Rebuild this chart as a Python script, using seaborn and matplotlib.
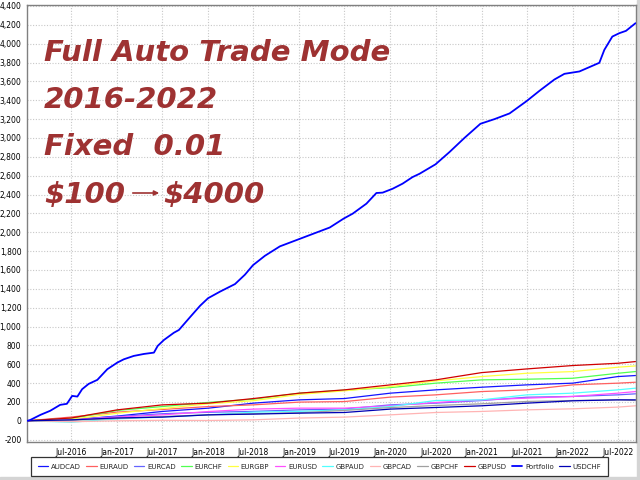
import matplotlib
matplotlib.use("Agg")
import matplotlib.pyplot as plt
import matplotlib.dates as mdates
from matplotlib.ticker import FuncFormatter, MultipleLocator
from matplotlib.patches import Rectangle, FancyArrowPatch
import pandas as pd
import seaborn as sns

# half-year sample dates for the single pairs
pair_dates = ["2016-01-07", "2016-07-01", "2017-01-01", "2017-07-01", "2018-01-01",
              "2018-07-01", "2019-01-01", "2019-07-01", "2020-01-01", "2020-07-01",
              "2021-01-01", "2021-07-01", "2022-01-01", "2022-07-01", "2022-09-10"]

audcad = [0, 10, 50, 99, 134, 187, 222, 236, 293, 328, 356, 381, 399, 469, 480]
euraud = [0, 40, 92, 120, 151, 169, 198, 204, 251, 275, 310, 328, 381, 399, 409]
eurcad = [0, 15, 45, 75, 90, 100, 116, 125, 169, 187, 215, 250, 258, 275, 286]
eurchf = [0, 25, 110, 151, 195, 229, 293, 325, 352, 399, 434, 441, 451, 504, 522]
eurgbp = [0, 15, 80, 130, 180, 213, 280, 318, 363, 423, 469, 504, 522, 568, 582]
eurusd = [0, 10, 40, 63, 98, 124, 134, 134, 159, 194, 222, 240, 258, 293, 310]
gbpaud = [0, -15, 20, 40, 63, 92, 100, 116, 151, 215, 222, 275, 293, 328, 346]
gbpcad = [0, -10, 0, 5, 3, 10, 29, 39, 63, 88, 99, 116, 127, 145, 159]
gbpchf = [0, 5, 25, 45, 63, 75, 85, 110, 140, 162, 180, 205, 215, 222, 215]
gbpusd = [0, 30, 116, 169, 187, 236, 293, 328, 381, 434, 511, 550, 586, 610, 628]
usdchf = [0, 10, 30, 39, 63, 71, 81, 88, 124, 141, 159, 187, 212, 222, 222]

# portfolio equity curve
port_dates = ["2016-01-07", "2016-01-19", "2016-02-28", "2016-04-07", "2016-05-17",
              "2016-06-13", "2016-07-04", "2016-07-25", "2016-08-13", "2016-09-08",
              "2016-10-13", "2016-11-22", "2017-01-01", "2017-01-27", "2017-03-08",
              "2017-04-18", "2017-05-28", "2017-06-12", "2017-07-07", "2017-08-16",
              "2017-09-05", "2017-10-20", "2017-11-29", "2017-12-31", "2018-02-17",
              "2018-04-18", "2018-05-28", "2018-06-29", "2018-08-16", "2018-10-15",
              "2018-11-24", "2019-01-03", "2019-03-04", "2019-05-03", "2019-06-28",
              "2019-08-03", "2019-09-27", "2019-11-06", "2019-12-01", "2020-01-10",
              "2020-02-19", "2020-03-30", "2020-04-27", "2020-06-30", "2020-08-25",
              "2020-10-24", "2020-12-27", "2021-02-22", "2021-04-23", "2021-06-30",
              "2021-08-21", "2021-10-20", "2021-11-29", "2022-01-28", "2022-04-18",
              "2022-05-08", "2022-06-09", "2022-07-07", "2022-08-03", "2022-09-10"]
portfolio = [0, 10, 63, 106, 169, 180, 264, 257, 335, 391,
             434, 547, 617, 652, 688, 709, 723, 794, 857, 934,
             963, 1100, 1220, 1300, 1370, 1450, 1550, 1650, 1750, 1850,
             1890, 1930, 1990, 2050, 2145, 2197, 2303, 2416, 2420, 2461,
             2515, 2585, 2620, 2720, 2850, 3000, 3150, 3200, 3260, 3390,
             3500, 3620, 3680, 3705, 3797, 3934, 4075, 4111, 4136, 4217]

names = ["AUDCAD", "EURAUD", "EURCAD", "EURCHF", "EURGBP", "EURUSD",
         "GBPAUD", "GBPCAD", "GBPCHF", "GBPUSD", "Portfolio", "USDCHF"]
colors = ["#1414ff", "#ff6060", "#6464ff", "#50ff50", "#ffff40", "#ff50ff",
          "#50ffff", "#ffb4b4", "#a0a0a0", "#d00000", "#0000ff", "#0000b4"]

series = {"AUDCAD": audcad, "EURAUD": euraud, "EURCAD": eurcad, "EURCHF": eurchf,
          "EURGBP": eurgbp, "EURUSD": eurusd, "GBPAUD": gbpaud, "GBPCAD": gbpcad,
          "GBPCHF": gbpchf, "GBPUSD": gbpusd, "USDCHF": usdchf}

sns.set_style("white")
plt.rcParams['font.family'] = ['DejaVu Sans']

fig = plt.figure(figsize=(6.4, 4.8), dpi=100)
ax = fig.add_axes([27 / 640, 38 / 480, 609 / 640, 437 / 480])

pd_dates = pd.to_datetime(pair_dates)
for name, col in zip(names, colors):
    if name == "Portfolio":
        sns.lineplot(x=pd.to_datetime(port_dates), y=portfolio, color=col,
                     linewidth=1.3, label=name, ax=ax, zorder=5)
    else:
        sns.lineplot(x=pd_dates, y=series[name], color=col,
                     linewidth=0.9, label=name, ax=ax)

ax.set_xlim(pd.Timestamp("2016-01-05"), pd.Timestamp("2022-09-12"))
ax.set_ylim(-225, 4410)
ax.yaxis.set_major_locator(MultipleLocator(200))
ax.yaxis.set_major_formatter(FuncFormatter(lambda v, p: f"{int(v):,}"))
ax.xaxis.set_major_locator(mdates.MonthLocator(bymonth=[1, 7]))
ax.xaxis.set_major_formatter(mdates.DateFormatter("%b-%Y"))
ax.tick_params(labelsize=5.5, length=2, pad=2, colors="#000000")
ax.grid(True, color="#c8c8c8", linestyle=(0, (1, 1.5)), linewidth=0.8)
for s in ax.spines.values():
    s.set_color("#808080")
    s.set_linewidth(1.0)
ax.set_xlabel("")
ax.set_ylabel("")

ax.legend_.remove()
handles, labs = ax.get_legend_handles_labels()
leg = fig.legend(handles, labs, loc="lower center", bbox_to_anchor=(0.4992, 0.004),
                 ncol=12, fontsize=5, frameon=True, fancybox=False,
                 edgecolor="#000000", handlelength=1.5, columnspacing=0.78,
                 handletextpad=0.4, borderpad=0.9, borderaxespad=0.3)
leg.get_frame().set_linewidth(0.9)

# overlay text
red = "#9e3232"
tkw = dict(transform=fig.transFigure, color=red, fontsize=21, fontweight="bold",
           style="italic", family="DejaVu Sans", va="baseline", ha="left")
fig.text(44 / 640, 1 - 61 / 480, "Full Auto Trade Mode", **tkw)
fig.text(44 / 640, 1 - 108 / 480, "2016-2022", **tkw)
fig.text(44 / 640, 1 - 155 / 480, "Fixed  0.01", **tkw)
fig.text(44 / 640, 1 - 203 / 480, r"\$100", **tkw)
fig.text(163 / 640, 1 - 203 / 480, r"\$4000", **tkw)
fig.add_artist(FancyArrowPatch((130 / 640, 1 - 193 / 480), (162 / 640, 1 - 193 / 480),
                               transform=fig.transFigure, arrowstyle="-|>",
                               mutation_scale=7, color=red, linewidth=1.2))

# window edge strips
fig.patches.append(Rectangle((0, 0), 1, 3 / 480, transform=fig.transFigure,
                             color="#d4d4d4", zorder=-1))
fig.patches.append(Rectangle((637 / 640, 0), 3 / 640, 1, transform=fig.transFigure,
                             color="#d4d4d4", zorder=-1))

plt.savefig("out.png", dpi=100)
